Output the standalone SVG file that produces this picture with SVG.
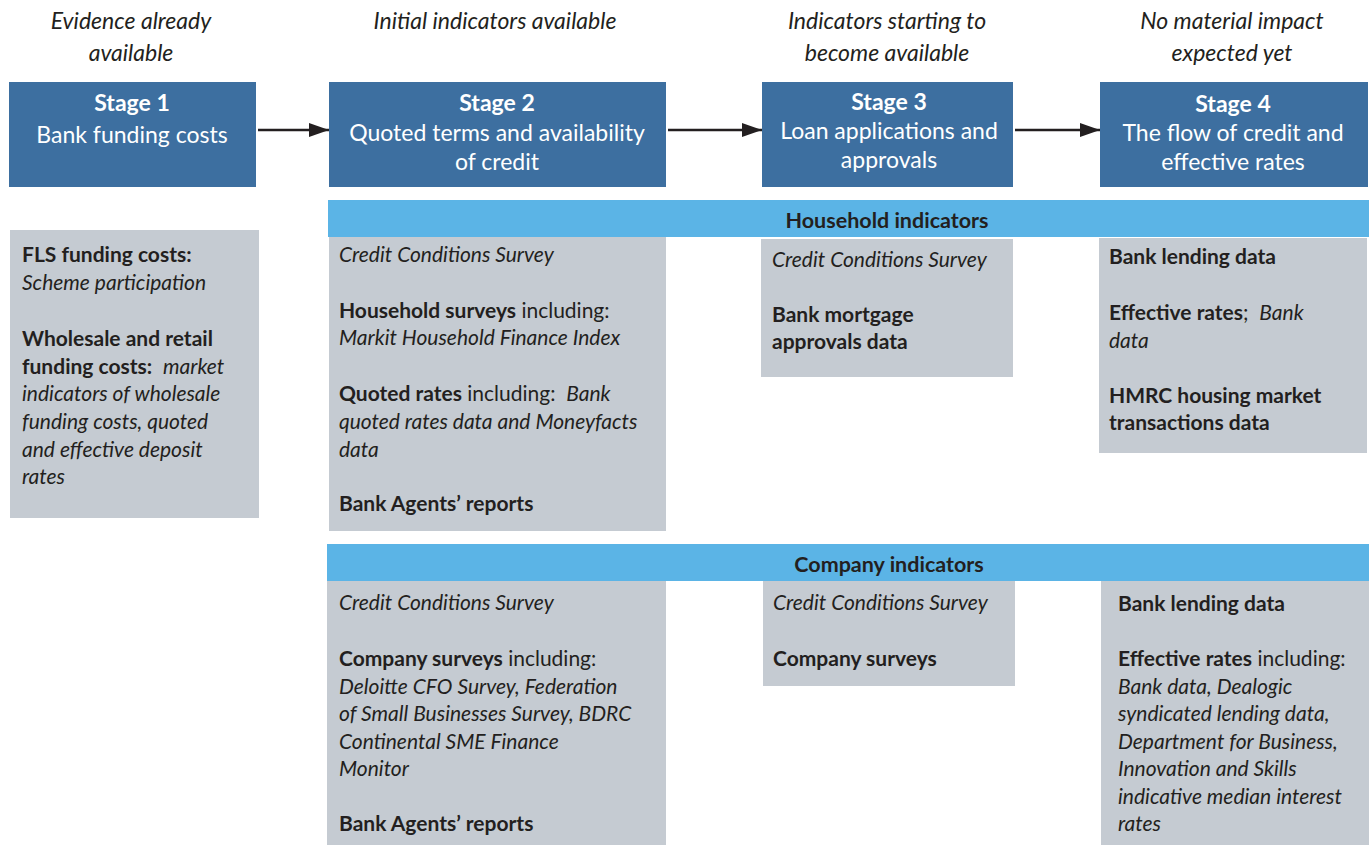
<svg xmlns="http://www.w3.org/2000/svg" width="1369" height="845" viewBox="0 0 1369 845">
<defs>
<marker id="ah" markerWidth="20" markerHeight="14" refX="20" refY="7" orient="auto" markerUnits="userSpaceOnUse" viewBox="0 0 20 14">
<path d="M0,0 L20,7 L0,14 Z" fill="#231f20"/>
</marker>
<style>
text{font-family:Lato,"Open Sans","Liberation Sans",sans-serif;fill:#231f20}
.hd{font-size:23px;font-style:italic;text-anchor:middle}
.stg{fill:#3d6fa0}
.st{fill:#ffffff;font-size:23px;text-anchor:middle}
.sb{font-weight:bold}
.band{fill:#5bb4e6}
.bt{font-size:21.5px;font-weight:bold;text-anchor:middle}
.box{fill:#c5cbd2}
.tx{font-size:21px}
.b{font-weight:bold}
.i{font-style:italic}
.conn{stroke:#231f20;stroke-width:2.5;fill:none}
</style>
</defs>
<rect width="1369" height="845" fill="#ffffff"/>

<g id="headers">
<text class="hd" x="131" y="29">Evidence already</text>
<text class="hd" x="131" y="61">available</text>
<text class="hd" x="495" y="29">Initial indicators available</text>
<text class="hd" x="887" y="29">Indicators starting to</text>
<text class="hd" x="887" y="61">become available</text>
<text class="hd" x="1232" y="29">No material impact</text>
<text class="hd" x="1232" y="61">expected yet</text>
</g>

<g id="stage1">
<rect class="stg" x="9" y="82" width="247" height="105"/>
<text class="st sb" x="132" y="111">Stage 1</text>
<text class="st" x="132" y="143">Bank funding costs</text>
</g>
<g id="stage2">
<rect class="stg" x="329" y="82" width="337" height="105"/>
<text class="st sb" x="497" y="111">Stage 2</text>
<text class="st" x="497" y="141">Quoted terms and availability</text>
<text class="st" x="497" y="170">of credit</text>
</g>
<g id="stage3">
<rect class="stg" x="762" y="82" width="251" height="105"/>
<text class="st sb" x="889" y="110">Stage 3</text>
<text class="st" x="889" y="139">Loan applications and</text>
<text class="st" x="889" y="168">approvals</text>
</g>
<g id="stage4">
<rect class="stg" x="1100" y="82" width="268" height="105"/>
<text class="st sb" x="1233" y="112">Stage 4</text>
<text class="st" x="1233" y="141">The flow of credit and</text>
<text class="st" x="1233" y="170">effective rates</text>
</g>

<g id="connectors">
<line class="conn" x1="258" y1="130" x2="329" y2="130" marker-end="url(#ah)"/>
<line class="conn" x1="668" y1="130" x2="762" y2="130" marker-end="url(#ah)"/>
<line class="conn" x1="1015" y1="130" x2="1100" y2="130" marker-end="url(#ah)"/>
</g>

<g id="household-band">
<rect class="band" x="328" y="200" width="1041" height="37"/>
<text class="bt" x="887" y="228">Household indicators</text>
</g>

<g id="stage1-evidence">
<rect class="box" x="10" y="230" width="249" height="288"/>
<text class="tx b" x="22" y="262">FLS funding costs:</text>
<text class="tx i" x="22" y="290">Scheme participation</text>
<text class="tx b" x="22" y="346">Wholesale and retail</text>
<text class="tx" x="22" y="374" xml:space="preserve"><tspan class="b">funding costs:</tspan>  <tspan class="i">market</tspan></text>
<text class="tx i" x="22" y="401">indicators of wholesale</text>
<text class="tx i" x="22" y="429">funding costs, quoted</text>
<text class="tx i" x="22" y="457">and effective deposit</text>
<text class="tx i" x="22" y="484">rates</text>
</g>

<g id="household-stage2">
<rect class="box" x="329" y="237" width="337" height="294"/>
<text class="tx i" x="339" y="262">Credit Conditions Survey</text>
<text class="tx" x="339" y="318"><tspan class="b">Household surveys</tspan> including:</text>
<text class="tx i" x="339" y="345">Markit Household Finance Index</text>
<text class="tx" x="339" y="401" xml:space="preserve"><tspan class="b">Quoted rates</tspan> including:  <tspan class="i">Bank</tspan></text>
<text class="tx i" x="339" y="429">quoted rates data and Moneyfacts</text>
<text class="tx i" x="339" y="457">data</text>
<text class="tx b" x="339" y="511">Bank Agents’ reports</text>
</g>

<g id="household-stage3">
<rect class="box" x="761" y="239" width="252" height="138"/>
<text class="tx i" x="772" y="267">Credit Conditions Survey</text>
<text class="tx b" x="772" y="322">Bank mortgage</text>
<text class="tx b" x="772" y="349">approvals data</text>
</g>

<g id="household-stage4">
<rect class="box" x="1099" y="238" width="268" height="215"/>
<text class="tx b" x="1109" y="264">Bank lending data</text>
<text class="tx" x="1109" y="320" xml:space="preserve"><tspan class="b">Effective rates</tspan>;  <tspan class="i">Bank</tspan></text>
<text class="tx i" x="1109" y="348">data</text>
<text class="tx b" x="1109" y="403">HMRC housing market</text>
<text class="tx b" x="1109" y="430">transactions data</text>
</g>

<g id="company-band">
<rect class="band" x="327" y="544" width="1042" height="37"/>
<text class="bt" x="889" y="572">Company indicators</text>
</g>

<g id="company-stage2">
<rect class="box" x="327" y="581" width="339" height="264"/>
<text class="tx i" x="339" y="610">Credit Conditions Survey</text>
<text class="tx" x="339" y="666"><tspan class="b">Company surveys</tspan> including:</text>
<text class="tx i" x="339" y="694">Deloitte CFO Survey, Federation</text>
<text class="tx i" x="339" y="721">of Small Businesses Survey, BDRC</text>
<text class="tx i" x="339" y="749">Continental SME Finance</text>
<text class="tx i" x="339" y="776">Monitor</text>
<text class="tx b" x="339" y="831">Bank Agents’ reports</text>
</g>

<g id="company-stage3">
<rect class="box" x="763" y="581" width="252" height="105"/>
<text class="tx i" x="773" y="610">Credit Conditions Survey</text>
<text class="tx b" x="773" y="666">Company surveys</text>
</g>

<g id="company-stage4">
<rect class="box" x="1101" y="581" width="268" height="264"/>
<text class="tx b" x="1118" y="611">Bank lending data</text>
<text class="tx" x="1118" y="666"><tspan class="b">Effective rates</tspan> including:</text>
<text class="tx i" x="1118" y="694">Bank data, Dealogic</text>
<text class="tx i" x="1118" y="721">syndicated lending data,</text>
<text class="tx i" x="1118" y="749">Department for Business,</text>
<text class="tx i" x="1118" y="776">Innovation and Skills</text>
<text class="tx i" x="1118" y="804">indicative median interest</text>
<text class="tx i" x="1118" y="831">rates</text>
</g>
</svg>
